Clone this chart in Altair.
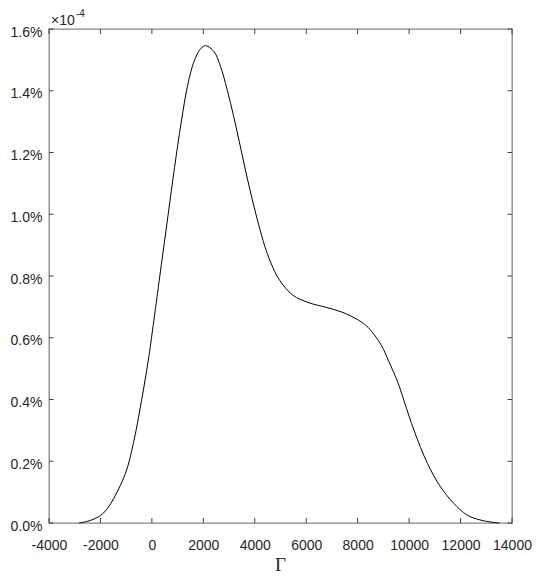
import altair as alt
import pandas as pd

# Curve (y in units of 1e-4)
gamma = [-2830, -2440, -2000, -1780, -1550, -1030, -720, -400, -140, 50, 140, 370,
         625, 881, 1137, 1390, 1647, 1903, 2095, 2413, 2670, 2922, 3179, 3435,
         3688, 3945, 4201, 4454, 4711, 4967, 5477, 6116, 6752, 7392, 8031, 8414,
         8924, 9200, 9563, 9817, 10200, 10713, 11222, 11731, 12245, 12754, 13263,
         13520]
density = [0.0, 0.007, 0.024, 0.042, 0.070, 0.160, 0.258, 0.398, 0.527, 0.640,
           0.695, 0.838, 0.995, 1.152, 1.296, 1.418, 1.497, 1.537, 1.546, 1.527,
           1.478, 1.405, 1.317, 1.221, 1.124, 1.033, 0.951, 0.880, 0.826, 0.786,
           0.738, 0.713, 0.699, 0.683, 0.657, 0.633, 0.575, 0.525, 0.455, 0.392,
           0.298, 0.193, 0.117, 0.064, 0.026, 0.010, 0.002, 0.0]

x_ticks = [-4000, -2000, 0, 2000, 4000, 6000, 8000, 10000, 12000, 14000]
y_ticks = [0.0, 0.2, 0.4, 0.6, 0.8, 1.0, 1.2, 1.4, 1.6]
x_title = ["Γ"]
exp_base = ["×10"]
exp_power = ["-4"]

W, H = 463, 494
TXT = "#262626"
SANS = "Liberation Sans"

xs = alt.Scale(domain=[-4000, 14000], nice=False, zero=False)
ys = alt.Scale(domain=[0, 1.6], nice=False, zero=False)

curve_df = pd.DataFrame({"g": gamma, "d": density})
xt_df = pd.DataFrame({"t": x_ticks})
yt_df = pd.DataFrame({"t": y_ticks})

line = alt.Chart(curve_df).mark_line(
    color="black", strokeWidth=1.0, interpolate="catmull-rom"
).encode(
    x=alt.X("g:Q", scale=xs, title=None, axis=alt.Axis(
        values=x_ticks, labelExpr="'' + datum.value", domain=False, ticks=False,
        grid=False, labelFont=SANS, labelFontSize=14, labelColor=TXT,
        labelPadding=15, labelFlush=False)),
    y=alt.Y("d:Q", scale=ys, title=None, axis=alt.Axis(
        values=y_ticks, labelExpr="format(datum.value, '.1f') + '%'", domain=False,
        ticks=False, grid=False, labelFont=SANS, labelFontSize=14,
        labelColor=TXT, labelPadding=7, labelOffset=3, labelFlush=False)),
)

tick_color = "#404040"
bottom_ticks = alt.Chart(xt_df).mark_rule(color=tick_color, strokeWidth=1).encode(
    x=alt.X("t:Q", scale=xs, title=None), y=alt.value(H), y2=alt.value(H - 5))
top_ticks = alt.Chart(xt_df).mark_rule(color=tick_color, strokeWidth=1).encode(
    x=alt.X("t:Q", scale=xs, title=None), y=alt.value(0), y2=alt.value(5))
left_ticks = alt.Chart(yt_df).mark_rule(color=tick_color, strokeWidth=1).encode(
    y=alt.Y("t:Q", scale=ys, title=None), x=alt.value(0), x2=alt.value(4.5))
right_ticks = alt.Chart(yt_df).mark_rule(color=tick_color, strokeWidth=1).encode(
    y=alt.Y("t:Q", scale=ys, title=None), x=alt.value(W), x2=alt.value(W - 4.5))

exp1 = alt.Chart(pd.DataFrame({"s": exp_base})).mark_text(
    font=SANS, fontSize=14, color=TXT, align="left", baseline="alphabetic"
).encode(x=alt.value(2), y=alt.value(-4), text="s:N")
exp2 = alt.Chart(pd.DataFrame({"s": exp_power})).mark_text(
    font=SANS, fontSize=10, color=TXT, align="left", baseline="alphabetic"
).encode(x=alt.value(27), y=alt.value(-12), text="s:N")
gamma_label = alt.Chart(pd.DataFrame({"s": x_title})).mark_text(
    font="Liberation Serif", fontSize=19, color=TXT, align="center",
    baseline="alphabetic"
).encode(x=alt.value(W / 2), y=alt.value(H + 48), text="s:N")

chart = alt.layer(
    line, bottom_ticks, top_ticks, left_ticks, right_ticks, exp1, exp2, gamma_label
).properties(
    width=W, height=H,
    background="white",
    padding={"left": 41, "top": 21, "right": 21, "bottom": 53},
    autosize=alt.AutoSizeParams(type="none"),
).configure_view(
    stroke="#858585", strokeWidth=1.3
)

chart.save("out.html", embed_options={"renderer": "svg", "actions": False})
